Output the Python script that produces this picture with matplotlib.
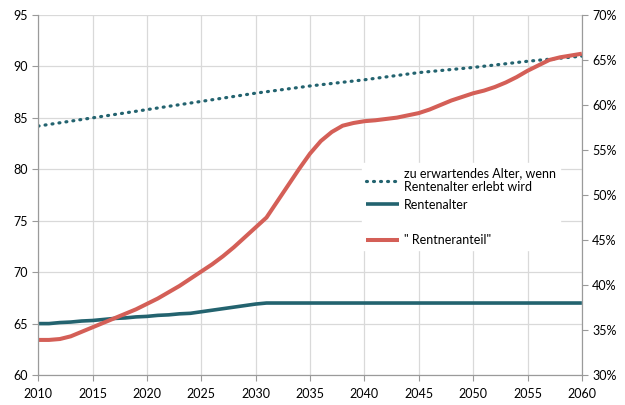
import matplotlib
matplotlib.use("Agg")
import matplotlib.pyplot as plt
from matplotlib.lines import Line2D
from matplotlib.ticker import FuncFormatter, MultipleLocator

plt.rcParams["font.family"] = ["Lato", "DejaVu Sans"]

years = list(range(2010, 2061))

# "Rentneranteil" in percent, one value per year
rentneranteil = [
    33.9, 33.9, 34.0, 34.3, 34.8, 35.3, 35.8, 36.3, 36.8, 37.3,
    37.9, 38.5, 39.2, 39.9, 40.7, 41.5, 42.3, 43.2, 44.2, 45.3,
    46.4, 47.5, 49.3, 51.1, 52.9, 54.6, 56.0, 57.0, 57.7, 58.0,
    58.2, 58.3, 58.45, 58.6, 58.85, 59.1, 59.5, 60.0, 60.5, 60.9,
    61.3, 61.6, 62.0, 62.5, 63.1, 63.8, 64.4, 65.0, 65.3, 65.5,
    65.7,
]

# Rentenalter, one value per year
rentenalter = [
    65.0, 65.0, 65.1, 65.15, 65.25, 65.3, 65.4, 65.5, 65.55, 65.65,
    65.7, 65.8, 65.85, 65.95, 66.0, 66.15, 66.3, 66.45, 66.6, 66.75,
    66.9, 67.0,
] + [67.0] * 29

# expected age when reaching retirement age, every 5 years
alter_years = [2010, 2015, 2020, 2025, 2030, 2035, 2040, 2045, 2050, 2055, 2060]
alter_erwartet = [84.2, 85.0, 85.8, 86.6, 87.4, 88.1, 88.7, 89.4, 89.9, 90.5, 91.0]

teal = "#23636f"
red = "#d45f57"
grid_c = "#d9d9d9"
axis_c = "#9a9a9a"

fig, ax = plt.subplots(figsize=(6.25, 4.05), dpi=100)
fig.subplots_adjust(left=0.061, right=0.931, top=0.963, bottom=0.074)

l1, = ax.plot(alter_years, alter_erwartet, color=teal, lw=2.3,
              linestyle=(0, (0.3, 1.9)), dash_capstyle="round",
              label="zu erwartendes Alter, wenn\nRentenalter erlebt wird")
l2, = ax.plot(years, rentenalter, color=teal, lw=2.6, label="Rentenalter",
              solid_capstyle="butt")

ax.set_xlim(2010, 2060)
ax.set_ylim(60, 95)
ax.xaxis.set_major_locator(MultipleLocator(5))
ax.yaxis.set_major_locator(MultipleLocator(5))
ax.grid(True, color=grid_c, lw=0.9)
ax.set_axisbelow(True)

ax2 = ax.twinx()
l3, = ax2.plot(years, [v / 100 for v in rentneranteil], color=red, lw=2.9,
               label='" Rentneranteil"', solid_capstyle="butt")
ax2.set_ylim(0.30, 0.70)
ax2.yaxis.set_major_locator(MultipleLocator(0.05))
ax2.yaxis.set_major_formatter(FuncFormatter(lambda v, p: f"{v * 100:.0f}%"))

for a in (ax, ax2):
    for s in a.spines.values():
        s.set_color(axis_c)
    a.spines["top"].set_visible(False)
    a.tick_params(colors=axis_c, labelcolor="black", labelsize=9,
                  length=4, width=0.8)
ax.tick_params(axis="x", pad=5)

# blank row between the 2nd and 3rd entry, as in the original legend
spacer = Line2D([], [], color="none")
leg = ax2.legend(handles=[l1, l2, spacer, l3],
                 labels=[l1.get_label(), l2.get_label(), " ", l3.get_label()],
                 loc="upper left",
                 bbox_to_anchor=(0.585, 0.605), frameon=True, fancybox=False,
                 edgecolor="white", framealpha=1, fontsize=9,
                 handlelength=2.6, handletextpad=0.45, labelspacing=0.45,
                 borderpad=0.3)

fig.savefig("out.png", dpi=100)
